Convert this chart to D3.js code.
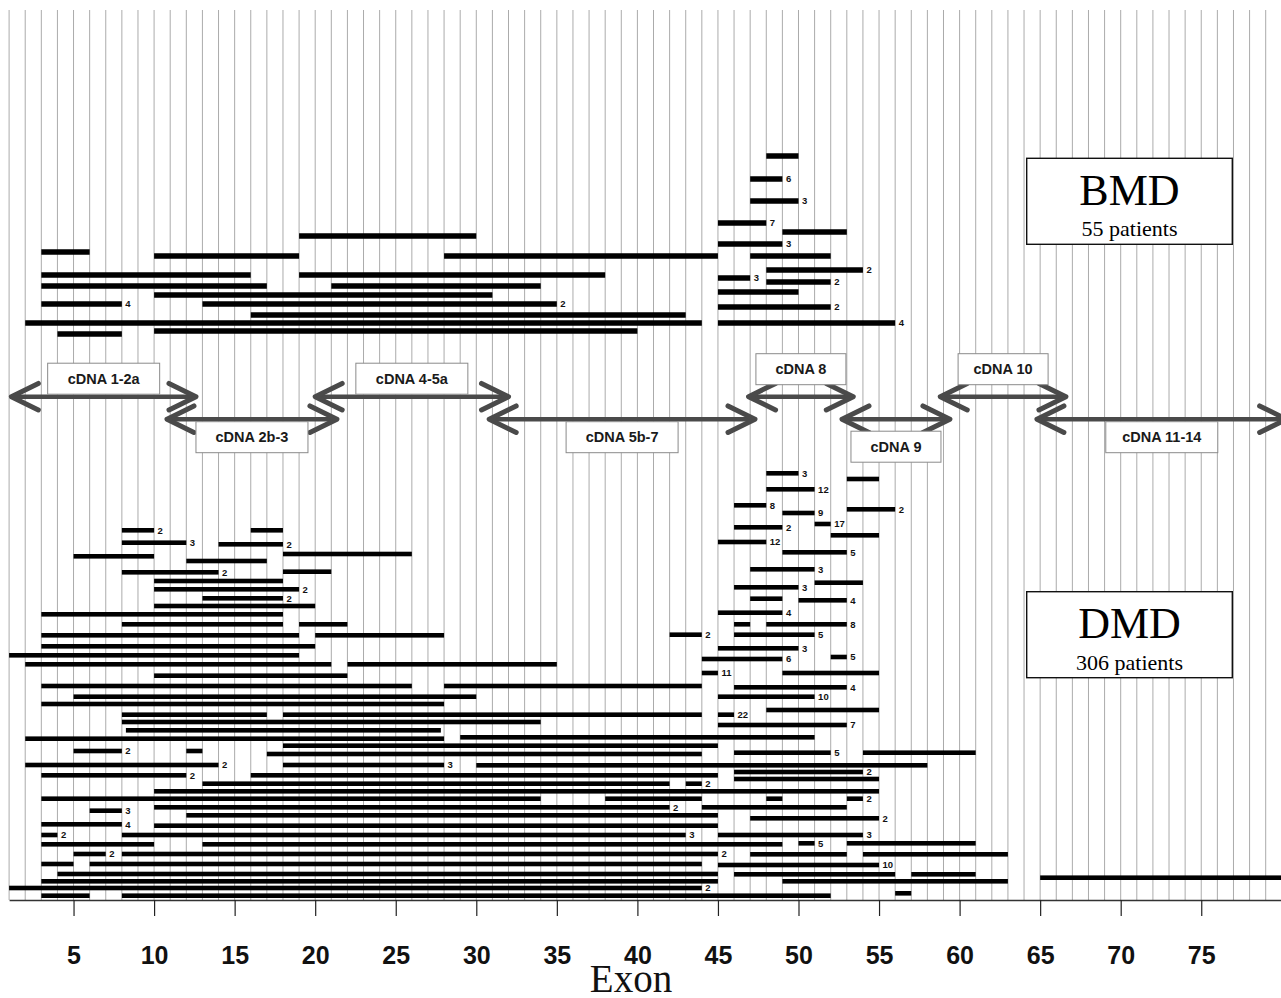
<!DOCTYPE html>
<html><head><meta charset="utf-8">
<script src="https://cdn.jsdelivr.net/npm/d3@7"></script>
<style>body{margin:0;background:#fff;overflow:hidden}</style>
</head><body>
<svg id="chart" width="1281" height="998"></svg>
<script>
// ---------- DATA ----------
const exonTicks = [5, 10, 15, 20, 25, 30, 35, 40, 45, 50, 55, 60, 65, 70, 75];
const exonGrid = d3.range(1, 80);

// [first exon, last exon, lane (height above axis), number of patients]
const bmdBars = [
  [48, 50, 74.4, 1], [47, 49, 72.1, 6], [47, 50, 69.9, 3], [45, 48, 67.7, 7],
  [49, 53, 66.8, 1], [19, 30, 66.4, 1], [45, 49, 65.6, 3], [3, 6, 64.8, 1],
  [10, 19, 64.4, 1], [28, 45, 64.4, 1], [47, 52, 64.4, 1], [48, 54, 63.0, 2],
  [3, 16, 62.5, 1], [19, 38, 62.5, 1], [45, 47, 62.2, 3], [48, 52, 61.8, 2],
  [3, 17, 61.4, 1], [21, 34, 61.4, 1], [45, 50, 60.8, 1], [10, 31, 60.5, 1],
  [3, 8, 59.6, 4], [13, 35, 59.6, 2], [45, 52, 59.3, 2], [16, 43, 58.5, 1],
  [2, 44, 57.7, 1], [45, 56, 57.7, 4], [10, 40, 56.9, 1], [4, 8, 56.6, 1]
];

const dmdBars = [
  [48, 50, 42.67, 3], [53, 55, 42.1, 1], [48, 51, 41.07, 12], [46, 48, 39.47, 8],
  [53, 56, 39.07, 2], [49, 51, 38.7, 9], [51, 52, 37.6, 17], [46, 49, 37.27, 2],
  [52, 55, 36.47, 1], [45, 48, 35.8, 12], [49, 53, 34.77, 5], [47, 51, 33.07, 3],
  [51, 54, 31.73, 1], [46, 50, 31.27, 3], [47, 49, 30.13, 1], [50, 53, 29.97, 4],
  [45, 49, 28.73, 4], [46, 47, 27.57, 1], [48, 53, 27.57, 8], [42, 44, 26.53, 2],
  [46, 51, 26.53, 5], [45, 50, 25.17, 3], [44, 49, 24.1, 6], [52, 53, 24.3, 5],
  [44, 45, 22.7, 11], [49, 55, 22.7, 1], [46, 53, 21.27, 4], [45, 51, 20.33, 10],
  [48, 55, 19.0, 1], [45, 46, 18.53, 22], [45, 53, 17.5, 7], [29, 51, 16.27, 1],
  [46, 52, 14.73, 5], [54, 61, 14.73, 1], [30, 58, 13.47, 1], [46, 54, 12.8, 2],
  [46, 55, 12.1, 1], [43, 44, 11.63, 2], [38, 44, 10.13, 1], [48, 49, 10.13, 1],
  [53, 54, 10.13, 2], [44, 53, 9.27, 1], [47, 55, 8.17, 2], [45, 54, 6.5, 3],
  [50, 51, 5.67, 5], [53, 61, 5.67, 1], [47, 53, 4.57, 1], [54, 63, 4.57, 1],
  [45, 55, 3.5, 10], [46, 56, 2.57, 1], [57, 61, 2.57, 1], [49, 63, 1.87, 1],
  [56, 57, 0.67, 1], [65, 80, 2.23, 1],
  [8, 10, 36.97, 2], [16, 18, 36.97, 1], [8, 12, 35.73, 3], [14, 18, 35.57, 2],
  [18, 26, 34.6, 1], [5, 10, 34.37, 1], [12, 17, 33.9, 1], [18, 21, 32.83, 1],
  [8, 14, 32.77, 2], [10, 18, 31.9, 1], [10, 19, 31.07, 2], [13, 18, 30.17, 2],
  [10, 20, 29.4, 1], [3, 18, 28.57, 1], [8, 18, 27.57, 1], [19, 22, 27.57, 1],
  [3, 19, 26.47, 1], [20, 28, 26.47, 1], [3, 20, 25.37, 1], [1, 19, 24.47, 1],
  [2, 21, 23.57, 1], [22, 35, 23.57, 1], [10, 22, 22.43, 1], [3, 26, 21.4, 1],
  [28, 44, 21.4, 1], [5, 30, 20.33, 1], [3, 28, 19.6, 1], [8, 17, 18.53, 1],
  [18, 44, 18.53, 1], [8, 34, 17.8, 1], [8.25, 27.8, 16.97, 1], [2, 28, 16.13, 1],
  [18, 45, 15.43, 1], [5, 8, 14.9, 2], [12, 13, 14.9, 1], [17, 44, 14.6, 1],
  [2, 14, 13.5, 2], [18, 28, 13.5, 3], [3, 12, 12.47, 2], [16, 45, 12.47, 1],
  [13, 42, 11.63, 1], [10, 55, 10.87, 1], [3, 34, 10.13, 1], [10, 42, 9.27, 2],
  [6, 8, 8.93, 3], [12, 45, 8.47, 1], [3, 8, 7.57, 4], [10, 45, 7.43, 1],
  [3, 4, 6.5, 2], [8, 43, 6.5, 3], [3, 10, 5.57, 1], [13, 49, 5.57, 1],
  [5, 7, 4.6, 2], [8, 45, 4.6, 2], [3, 5, 3.6, 1], [6, 44, 3.6, 1],
  [4, 45, 2.6, 1], [3, 45, 1.87, 1], [1, 44, 1.2, 2], [3, 6, 0.43, 1],
  [8, 52, 0.43, 1]
];

// cDNA fragments: name, first exon, last exon, lane (0 = upper, 1 = lower)
const cdnaNames  = ["cDNA 1-2a", "cDNA 2b-3", "cDNA 4-5a", "cDNA 5b-7", "cDNA 8", "cDNA 9", "cDNA 10", "cDNA 11-14"];
const cdnaStarts = [1.14, 10.8, 20.0, 30.8, 46.9, 52.7, 58.8, 64.8];
const cdnaEnds   = [12.6, 21.35, 32.0, 47.3, 53.4, 59.4, 66.6, 80.3];
const cdnaLanes  = [0, 1, 0, 1, 0, 1, 0, 1];

const groupNames = ["BMD", "DMD"];
const groupPatients = ["55 patients", "306 patients"];
const axisTitle = "Exon";

// ---------- LAYOUT ----------
const svg = d3.select("#chart");
const x = d3.scaleLinear().domain([1, 80]).range([9.1, 1281.8]);
const y = d3.scaleLinear().domain([0, 89]).range([900, 10]);
const laneLevel = [50.33, 48.08];

// grid
svg.append("g").selectAll("line").data(exonGrid).join("line")
  .attr("x1", d => x(d)).attr("x2", d => x(d))
  .attr("y1", y(89)).attr("y2", y(0))
  .attr("stroke", "#ababab").attr("stroke-width", 1);

// axis
const axis = d3.axisBottom(x).tickValues(exonTicks).tickSize(16).tickSizeOuter(0).tickPadding(30);
const gAxis = svg.append("g").attr("transform", `translate(0,${y(0)})`).call(axis);
gAxis.select(".domain").attr("stroke", "#333").attr("stroke-width", 1.5);
gAxis.selectAll(".tick line").attr("stroke", "#222").attr("stroke-width", 1.2);
gAxis.selectAll(".tick text")
  .attr("font-family", "'Liberation Sans', Arial, sans-serif")
  .attr("font-weight", "bold").attr("font-size", 25).attr("fill", "#111");

svg.append("text").attr("x", 631).attr("y", 992)
  .attr("text-anchor", "middle")
  .attr("font-family", "'Liberation Serif', 'Times New Roman', serif")
  .attr("font-size", 39).attr("fill", "#111").text(axisTitle);

// bars
function drawBars(data, h) {
  const g = svg.append("g");
  g.selectAll("rect").data(data).join("rect")
    .attr("x", d => x(d[0])).attr("width", d => x(d[1]) - x(d[0]))
    .attr("y", d => y(d[2]) - h / 2).attr("height", h)
    .attr("fill", "#000");
  g.selectAll("text").data(data.filter(d => d[3] > 1)).join("text")
    .attr("x", d => x(d[1]) + 3.5).attr("y", d => y(d[2]))
    .attr("dy", "0.35em")
    .attr("font-family", "'Liberation Sans', Arial, sans-serif")
    .attr("font-weight", "bold").attr("font-size", 9.5).attr("fill", "#111")
    .text(d => d[3]);
}
drawBars(bmdBars, 5.5);
drawBars(dmdBars, 4.6);

// cDNA arrows
const arrowColor = "#4a4a4a";
cdnaNames.forEach((name, i) => {
  const x0 = x(cdnaStarts[i]), x1 = x(cdnaEnds[i]);
  const yy = y(laneLevel[cdnaLanes[i]]);
  const g = svg.append("g");
  g.append("line").attr("x1", x0 + 2).attr("x2", x1 - 2).attr("y1", yy).attr("y2", yy)
    .attr("stroke", arrowColor).attr("stroke-width", 4.5);
  const hx = 27, hy = 13.3;
  g.append("polyline").attr("points", `${x0 + hx},${yy - hy} ${x0},${yy} ${x0 + hx},${yy + hy}`)
    .attr("fill", "none").attr("stroke", arrowColor).attr("stroke-width", 5)
    .attr("stroke-linecap", "round").attr("stroke-linejoin", "round");
  g.append("polyline").attr("points", `${x1 - hx},${yy - hy} ${x1},${yy} ${x1 - hx},${yy + hy}`)
    .attr("fill", "none").attr("stroke", arrowColor).attr("stroke-width", 5)
    .attr("stroke-linecap", "round").attr("stroke-linejoin", "round");
  const short = (x1 - x0) < 130;
  const bw = name.length > 7 ? 112 : 90, bh = 31;
  const off = short ? 12 : 2.5;
  const cx = (x0 + x1) / 2;
  const by = cdnaLanes[i] === 0 ? yy - off - bh : yy + off;
  g.append("rect").attr("x", cx - bw / 2).attr("y", by).attr("width", bw).attr("height", bh)
    .attr("fill", "#fff").attr("stroke", "#8a8a8a").attr("stroke-width", 1);
  g.append("text").attr("x", cx).attr("y", by + bh / 2).attr("dy", "0.36em")
    .attr("text-anchor", "middle")
    .attr("font-family", "'Liberation Sans', Arial, sans-serif")
    .attr("font-weight", "bold").attr("font-size", 14.5).attr("fill", "#1a1a1a")
    .text(name);
});

// group legend boxes
const legendTop = [158.3, 591.7];
groupNames.forEach((name, i) => {
  const g = svg.append("g").attr("transform", `translate(1026.7,${legendTop[i]})`);
  g.append("rect").attr("width", 205.6).attr("height", 86)
    .attr("fill", "#fff").attr("stroke", "#111").attr("stroke-width", 1.4);
  g.append("text").attr("x", 102.8).attr("y", 46.5).attr("text-anchor", "middle")
    .attr("font-family", "'Liberation Serif', 'Times New Roman', serif")
    .attr("font-size", 44).attr("fill", "#000").text(name);
  g.append("text").attr("x", 102.8).attr("y", 78).attr("text-anchor", "middle")
    .attr("font-family", "'Liberation Serif', 'Times New Roman', serif")
    .attr("font-size", 22).attr("fill", "#000").text(groupPatients[i]);
});
</script>
</body></html>
